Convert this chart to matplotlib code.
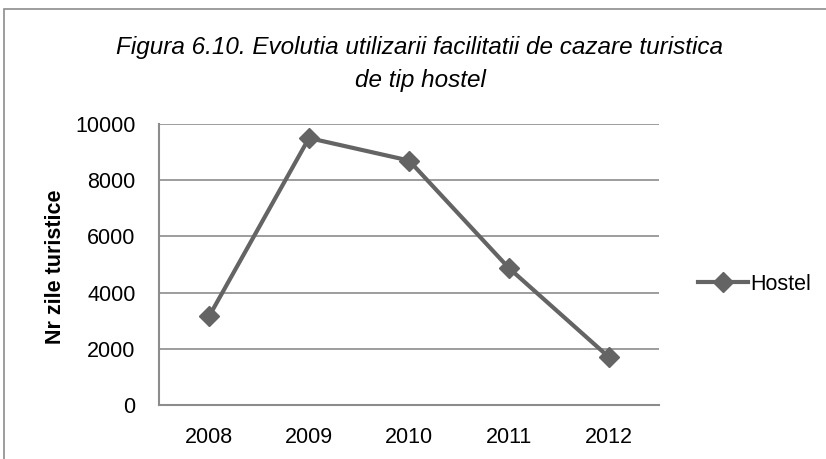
import matplotlib.pyplot as plt
from matplotlib.patches import Rectangle

years = ["2008", "2009", "2010", "2011", "2012"]
hostel = [3150, 9500, 8700, 4870, 1700]
y_ticks = [0, 2000, 4000, 6000, 8000, 10000]
title_lines = ["Figura 6.10. Evolutia utilizarii facilitatii de cazare turistica",
               "de tip hostel"]

plt.rcParams['font.family'] = ['Liberation Sans', 'DejaVu Sans']
line_col = '#646464'
grid_col = '#8c8c8c'

fig = plt.figure(figsize=(8.26, 4.59), dpi=100)
ax = fig.add_axes([159/826, 54/459, 500/826, 281/459])

x = list(range(len(years)))
ax.plot(x, hostel, color=line_col, lw=3, marker='D', ms=10, label='Hostel')

ax.set_xlim(-0.5, len(years) - 0.5)
ax.set_ylim(0, 10000)
ax.set_xticks(x)
ax.set_xticklabels(years)
ax.set_yticks(y_ticks)
ax.yaxis.grid(True, color=grid_col, lw=1.2)
ax.set_axisbelow(True)
ax.tick_params(axis='both', length=0, labelsize=15.5, colors='black')
ax.tick_params(axis='x', pad=16)
ax.tick_params(axis='y', pad=17)
for s in ['top', 'right']:
    ax.spines[s].set_visible(False)
for s in ['left', 'bottom']:
    ax.spines[s].set_color(grid_col)
    ax.spines[s].set_linewidth(1.5)

# y label placed by hand, like the excel chart
fig.text(56/826, 1 - 267/459, "Nr zile turistice", rotation=90, ha='center', va='center',
         fontsize=15.5, fontweight='bold')

# title, two lines with fixed baselines
fig.text(420/826, 1 - 54/459, title_lines[0], ha='center', va='baseline',
         fontsize=17.5, style='italic')
fig.text(420/826, 1 - 87/459, title_lines[1], ha='center', va='baseline',
         fontsize=17.5, style='italic')

leg = ax.legend(loc='center left', bbox_to_anchor=(1.04, 0.43), frameon=False,
                fontsize=15.5, handlelength=2.3, handletextpad=0.1)

# chart border
fig.patches.append(Rectangle((4/826, -0.1), 1.1, (459 - 9)/459 + 0.1,
                             transform=fig.transFigure, fill=False,
                             edgecolor='#8c8c8c', lw=1.2))

fig.savefig("out.png", dpi=100)
